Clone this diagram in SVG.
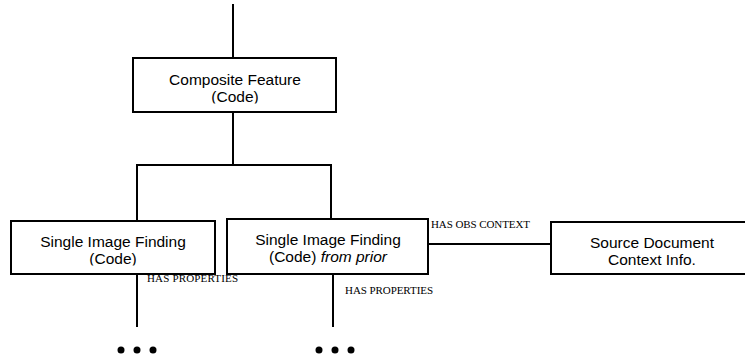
<svg xmlns="http://www.w3.org/2000/svg" width="745" height="360" viewBox="0 0 745 360">
<style>
.box{fill:#fff;stroke:#000;stroke-width:2}
.lbl{font-family:"Liberation Sans",Arial,sans-serif;font-size:15.5px;fill:#000;text-anchor:middle}
.rel{font-family:"Liberation Serif","Times New Roman",serif;font-size:11px;fill:#000}
.ln{fill:none;stroke:#000;stroke-width:2}
.dot{fill:#000}
</style>
<defs>
<clipPath id="c1"><rect x="134" y="59" width="201" height="44.5"/></clipPath>
<clipPath id="c2"><rect x="12" y="222" width="202" height="43.5"/></clipPath>
<clipPath id="c3"><rect x="228" y="220" width="199" height="46"/></clipPath>
</defs>
<g id="connectors">
<line class="ln" x1="233" y1="4" x2="233" y2="58"/>
<polyline class="ln" points="233,112 233,165"/>
<polyline class="ln" points="137,221 137,165 331,165 331,219"/>
<line class="ln" x1="428" y1="244" x2="551" y2="244"/>
<line class="ln" x1="137" y1="274" x2="137" y2="327"/>
<line class="ln" x1="333" y1="274" x2="333" y2="327"/>
<text class="rel" x="431" y="228" textLength="99">HAS OBS CONTEXT</text>
<text class="rel" x="147" y="282" textLength="91">HAS PROPERTIES</text>
<text class="rel" x="345" y="294" textLength="88">HAS PROPERTIES</text>
</g>
<g id="composite">
<rect class="box" x="133" y="58" width="203" height="54"/>
<g clip-path="url(#c1)">
<text class="lbl" x="235" y="85">Composite Feature</text>
<text class="lbl" x="235" y="102">(Code)</text>
</g>
</g>
<g id="finding1">
<rect class="box" x="11" y="221" width="204" height="53"/>
<g clip-path="url(#c2)">
<text class="lbl" x="113" y="247">Single Image Finding</text>
<text class="lbl" x="113" y="264">(Code)</text>
</g>
</g>
<g id="finding2">
<rect class="box" x="227" y="219" width="201" height="55"/>
<g clip-path="url(#c3)">
<text class="lbl" x="328" y="245">Single Image Finding</text>
<text class="lbl" x="328" y="262">(Code) <tspan font-style="italic">from prior</tspan></text>
</g>
</g>
<g id="source">
<rect class="box" x="551" y="222" width="202" height="52"/>
<text class="lbl" x="652" y="248">Source Document</text>
<text class="lbl" x="652" y="265">Context Info.</text>
</g>
<g id="more1">
<circle class="dot" cx="121" cy="350" r="3.5"/>
<circle class="dot" cx="137" cy="350" r="3.5"/>
<circle class="dot" cx="153" cy="350" r="3.5"/>
</g>
<g id="more2">
<circle class="dot" cx="319" cy="350" r="3.5"/>
<circle class="dot" cx="335" cy="350" r="3.5"/>
<circle class="dot" cx="351" cy="350" r="3.5"/>
</g>
</svg>
